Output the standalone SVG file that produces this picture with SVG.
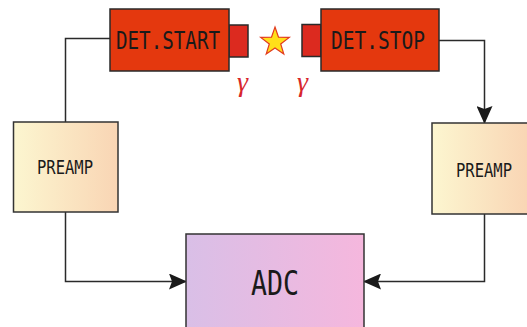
<svg xmlns="http://www.w3.org/2000/svg" width="527" height="327" viewBox="0 0 527 327">
<defs>
<linearGradient id="gPre" x1="0" y1="0" x2="1" y2="0">
<stop offset="0" stop-color="#FCF6D0"/>
<stop offset="1" stop-color="#F9D5B4"/>
</linearGradient>
<linearGradient id="gAdc" x1="0" y1="0" x2="1" y2="0">
<stop offset="0" stop-color="#D9BFE7"/>
<stop offset="1" stop-color="#F5B7DD"/>
</linearGradient>
<marker id="arr" viewBox="0 0 18 16" refX="17" refY="8" markerWidth="18" markerHeight="16" markerUnits="userSpaceOnUse" orient="auto">
<path d="M0,0 L18,8 L0,16 L3,8 Z" fill="#1a1a1a"/>
</marker>
</defs>
<style>
.det{fill:#E4380E;stroke:#2a2a2a;stroke-width:1.5}
.win{fill:#DC2A1F;stroke:#2a2a2a;stroke-width:1.5}
.pre{fill:url(#gPre);stroke:#333;stroke-width:1.5}
.adc{fill:url(#gAdc);stroke:#333;stroke-width:1.5}
.lbl{font-family:"DejaVu Sans Mono","Liberation Mono",monospace;fill:#1a1a1a}
.wire{fill:none;stroke:#2a2a2a;stroke-width:1.5}
.gam{font-family:"Liberation Serif","Times New Roman",serif;font-style:italic;fill:#D8262B;font-size:28px;text-anchor:middle}
</style>
<rect width="527" height="327" fill="#ffffff"/>
<g id="connectors">
<polyline class="wire" points="110,38.5 65.5,38.5 65.5,122"/>
<polyline class="wire" points="65.5,212 65.5,281.5 186,281.5" marker-end="url(#arr)"/>
<polyline class="wire" points="439,40.5 484.5,40.5 484.5,123" marker-end="url(#arr)"/>
<polyline class="wire" points="484.5,214 484.5,281.5 364,281.5" marker-end="url(#arr)"/>
</g>
<g id="det-start">
<rect class="win" x="229" y="25" width="19" height="32"/>
<rect class="det" x="110" y="9" width="119" height="62"/>
<text class="lbl" x="116" y="49" font-size="25" textLength="104" lengthAdjust="spacingAndGlyphs">DET.START</text>
</g>
<g id="det-stop">
<rect class="win" x="302" y="24.5" width="19" height="32"/>
<rect class="det" x="321" y="9" width="118" height="62"/>
<text class="lbl" x="331" y="49" font-size="25" textLength="94" lengthAdjust="spacingAndGlyphs">DET.STOP</text>
</g>
<g id="source">
<polygon points="275,27 278.5,37.2 289.3,37.4 280.7,43.9 283.8,54.1 275,48 266.2,54.1 269.3,43.9 260.7,37.4 271.5,37.2" fill="#FFE01A" stroke="#E23A1E" stroke-width="1.2"/>
</g>
<g id="gamma-1"><text class="gam" x="242.5" y="91">γ</text></g>
<g id="gamma-2"><text class="gam" x="302.5" y="91">γ</text></g>
<g id="preamp-left">
<rect class="pre" x="13.5" y="122" width="104.5" height="90"/>
<text class="lbl" x="37" y="174" font-size="20" textLength="56" lengthAdjust="spacingAndGlyphs">PREAMP</text>
</g>
<g id="preamp-right">
<rect class="pre" x="432" y="123" width="96.5" height="91"/>
<text class="lbl" x="456" y="177" font-size="20" textLength="56" lengthAdjust="spacingAndGlyphs">PREAMP</text>
</g>
<g id="adc">
<rect class="adc" x="186" y="234" width="178" height="100"/>
<text class="lbl" x="251" y="295" font-size="33" textLength="48" lengthAdjust="spacingAndGlyphs">ADC</text>
</g>
</svg>
